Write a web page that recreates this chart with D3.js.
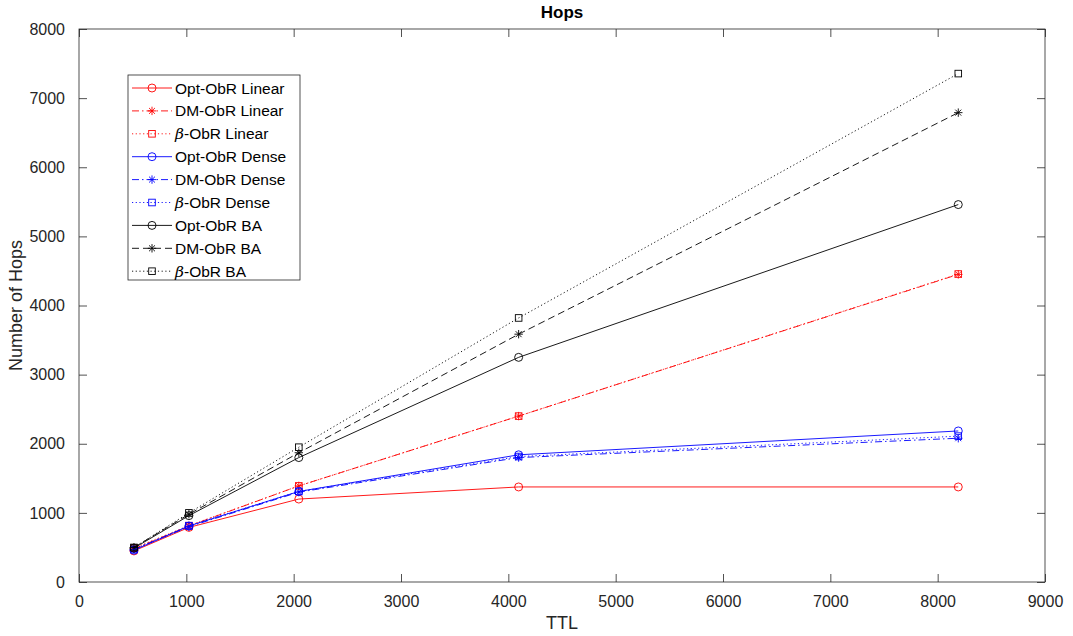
<!DOCTYPE html>
<html>
<head>
<meta charset="utf-8">
<script src="https://cdn.jsdelivr.net/npm/d3@7"></script>
<style>
  body { margin: 0; background: #fff; }
  text { font-family: "Liberation Sans", Arial, sans-serif; }
</style>
</head>
<body>
<svg width="1073" height="636"></svg>
<script>
// data
var ttl = [512, 1024, 2048, 4096, 8192];
var optLinear  = [450, 790, 1200, 1375, 1375];
var dmLinear   = [480, 810, 1390, 2400, 4450];
var betaLinear = [490, 815, 1390, 2400, 4455];
var optDense   = [460, 810, 1310, 1840, 2185];
var dmDense    = [470, 800, 1300, 1800, 2080];
var betaDense  = [470, 815, 1310, 1815, 2110];
var optBA      = [490, 960, 1800, 3250, 5460];
var dmBA       = [500, 980, 1870, 3585, 6790];
var betaBA     = [500, 1000, 1950, 3820, 7355];
var xTicks = [0, 1000, 2000, 3000, 4000, 5000, 6000, 7000, 8000, 9000];
var yTicks = [0, 1000, 2000, 3000, 4000, 5000, 6000, 7000, 8000];

var series = [
  {name: 'Opt-ObR Linear', beta: false, values: optLinear,  color: '#ff0000', dash: null,        marker: 'circle'},
  {name: 'DM-ObR Linear',  beta: false, values: dmLinear,   color: '#ff0000', dash: '7,3,1.5,3', marker: 'star'},
  {name: '-ObR Linear',    beta: true,  values: betaLinear, color: '#ff0000', dash: '1.2,2.5',   marker: 'square'},
  {name: 'Opt-ObR Dense',  beta: false, values: optDense,   color: '#0000ff', dash: null,        marker: 'circle'},
  {name: 'DM-ObR Dense',   beta: false, values: dmDense,    color: '#0000ff', dash: '7,3,1.5,3', marker: 'star'},
  {name: '-ObR Dense',     beta: true,  values: betaDense,  color: '#0000ff', dash: '1.2,2.5',   marker: 'square'},
  {name: 'Opt-ObR BA',     beta: false, values: optBA,      color: '#000000', dash: null,        marker: 'circle'},
  {name: 'DM-ObR BA',      beta: false, values: dmBA,       color: '#000000', dash: '7,4',       marker: 'star'},
  {name: '-ObR BA',        beta: true,  values: betaBA,     color: '#000000', dash: '1.2,2.5',   marker: 'square'}
];

var svg = d3.select("svg");
var mLeft = 79, mRight = 1045, mTop = 29, mBottom = 582;

var x = d3.scaleLinear().domain([0, 9000]).range([mLeft, mRight]);
var y = d3.scaleLinear().domain([0, 8000]).range([mBottom, mTop]);

var axisColor = '#262626';

// box
svg.append('rect')
  .attr('x', mLeft).attr('y', mTop)
  .attr('width', mRight - mLeft).attr('height', mBottom - mTop)
  .attr('fill', 'none').attr('stroke', axisColor).attr('stroke-width', 0.8);

function styleAxis(g) {
  g.select('.domain').remove();
  g.selectAll('.tick line').attr('stroke', axisColor).attr('stroke-width', 0.8);
  g.selectAll('.tick text').attr('fill', axisColor).style('font-size', '16px');
}

svg.append('g').attr('transform', 'translate(0,' + mBottom + ')')
  .call(d3.axisBottom(x).tickValues(xTicks).tickFormat(d3.format('d')).tickSizeInner(-8).tickSizeOuter(0).tickPadding(14))
  .call(styleAxis);
svg.append('g').attr('transform', 'translate(0,' + mTop + ')')
  .call(d3.axisTop(x).tickValues(xTicks).tickFormat('').tickSizeInner(-8).tickSizeOuter(0))
  .call(styleAxis);
svg.append('g').attr('transform', 'translate(' + mLeft + ',0)')
  .call(d3.axisLeft(y).tickValues(yTicks).tickFormat(d3.format('d')).tickSizeInner(-8).tickSizeOuter(0).tickPadding(14))
  .call(styleAxis);
svg.append('g').attr('transform', 'translate(' + mRight + ',0)')
  .call(d3.axisRight(y).tickValues(yTicks).tickFormat('').tickSizeInner(-8).tickSizeOuter(0))
  .call(styleAxis);

// titles
svg.append('text').attr('x', (mLeft + mRight) / 2).attr('y', 18)
  .attr('text-anchor', 'middle').style('font-size', '17px').style('font-weight', 'bold')
  .attr('fill', '#000').text('Hops');
svg.append('text').attr('x', (mLeft + mRight) / 2).attr('y', 629)
  .attr('text-anchor', 'middle').style('font-size', '18px').attr('fill', axisColor).text('TTL');
svg.append('text').attr('transform', 'translate(22,' + ((mTop + mBottom) / 2) + ') rotate(-90)')
  .attr('text-anchor', 'middle').style('font-size', '18px').attr('fill', axisColor).text('Number of Hops');

function drawMarker(g, type, cx, cy, color) {
  if (type === 'circle') {
    g.append('circle').attr('cx', cx).attr('cy', cy).attr('r', 4)
      .attr('fill', 'none').attr('stroke', color).attr('stroke-width', 0.9);
  } else if (type === 'square') {
    g.append('rect').attr('x', cx - 3.3).attr('y', cy - 3.3).attr('width', 6.6).attr('height', 6.6)
      .attr('fill', 'none').attr('stroke', color).attr('stroke-width', 0.9);
  } else {
    var r = 4.2;
    var p = '';
    [0, 45, 90, 135].forEach(function(a) {
      var rad = a * Math.PI / 180;
      var dx = r * Math.cos(rad), dy = r * Math.sin(rad);
      p += 'M' + (cx - dx) + ',' + (cy - dy) + 'L' + (cx + dx) + ',' + (cy + dy);
    });
    g.append('path').attr('d', p).attr('stroke', color).attr('stroke-width', 0.9).attr('fill', 'none');
  }
}

var line = d3.line().x(function(d, i) { return x(ttl[i]); }).y(function(d) { return y(d); });

var plot = svg.append('g');
series.forEach(function(s) {
  var g = plot.append('g');
  g.append('path').datum(s.values).attr('d', line)
    .attr('fill', 'none').attr('stroke', s.color).attr('stroke-width', 0.9)
    .attr('stroke-dasharray', s.dash);
  s.values.forEach(function(v, i) {
    drawMarker(g, s.marker, x(ttl[i]), y(v), s.color);
  });
});

// legend
var lg = svg.append('g');
var lx = 128, ly = 75, lw = 172, lh = 205, rowH = 22.9;
lg.append('rect').attr('x', lx).attr('y', ly).attr('width', lw).attr('height', lh)
  .attr('fill', '#fff').attr('stroke', axisColor).attr('stroke-width', 0.8);
series.forEach(function(s, i) {
  var cy = ly + 13 + i * rowH;
  lg.append('line').attr('x1', lx + 4).attr('x2', lx + 44).attr('y1', cy).attr('y2', cy)
    .attr('stroke', s.color).attr('stroke-width', 0.9).attr('stroke-dasharray', s.dash);
  drawMarker(lg, s.marker, lx + 24, cy, s.color);
  var t = lg.append('text').attr('x', lx + 47).attr('y', cy + 5.5)
    .style('font-size', '15.5px').attr('fill', '#000');
  if (s.beta) {
    t.append('tspan').style('font-style', 'italic').attr('font-family', '"DejaVu Serif", serif').text('\u03b2');
  }
  t.append('tspan').text(s.name);
});
</script>
</body>
</html>
